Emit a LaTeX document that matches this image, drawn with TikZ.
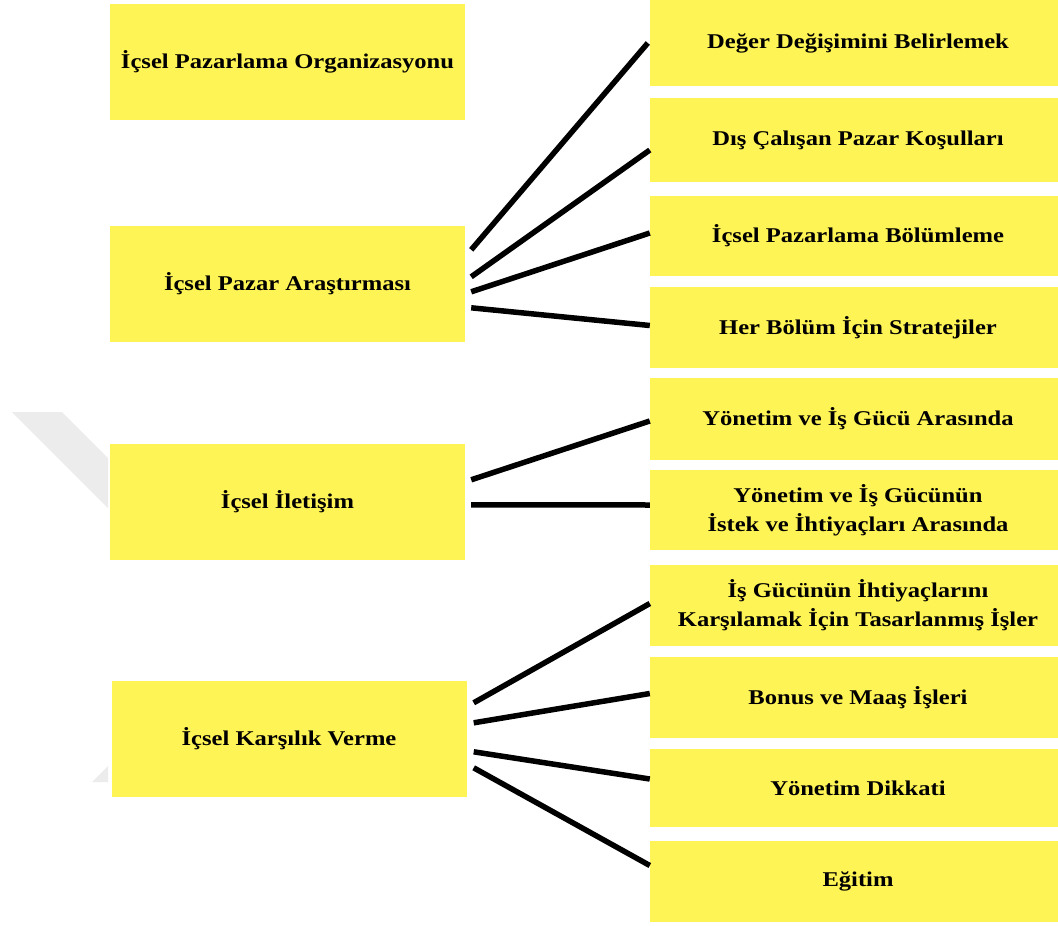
\documentclass[tikz,border=0pt]{standalone}
\usepackage{fontspec}
\setmainfont{Liberation Serif}[FakeStretch=1.17]
\usetikzlibrary{calc}
\definecolor{boxyellow}{RGB}{255,244,85}
\definecolor{markgray}{RGB}{236,236,236}
\tikzset{
  every picture/.style={x=1pt,y=-1pt},
  leftbox/.style={rectangle, fill=boxyellow, inner sep=0pt,
    minimum width=355pt, minimum height=116pt,
    font=\fontsize{21}{29}\selectfont\bfseries, align=center},
  rightbox/.style={rectangle, fill=boxyellow, inner sep=0pt,
    minimum width=416pt, font=\fontsize{21}{29}\selectfont\bfseries, align=center},
  link/.style={line width=5.5pt, black}
}
\begin{document}
\begin{tikzpicture}
  \useasboundingbox (0,0) rectangle (1058,926);
  \fill[white] (0,0) rectangle (1058,926);

  % faint chevron in the left margin
  \begin{scope}
    \clip (0,0) rectangle (108,926);
    \fill[markgray] (12,412) -- (62,412) -- (287,637) -- (142,782) -- (92,782) -- (237,637) -- cycle;
  \end{scope}

  % main topics
  \node[leftbox] (L1) at (287.5,61.5) {İçsel Pazarlama Organizasyonu};
  \node[leftbox] (L2) at (287.5,284)  {İçsel Pazar Araştırması};
  \node[leftbox] (L3) at (287.5,502)  {İçsel İletişim};
  \node[leftbox] (L4) at (289,739)    {İçsel Karşılık Verme};

  % sub-topics
  \node[rightbox, minimum height=86pt] (R1)  at (858,43)    {Değer Değişimini Belirlemek};
  \node[rightbox, minimum height=84pt] (R2)  at (858,140)   {Dış Çalışan Pazar Koşulları};
  \node[rightbox, minimum height=80pt] (R3)  at (858,236)   {İçsel Pazarlama Bölümleme};
  \node[rightbox, minimum height=81pt] (R4)  at (858,327.5) {Her Bölüm İçin Stratejiler};
  \node[rightbox, minimum height=82pt] (R5)  at (858,419)   {Yönetim ve İş Gücü Arasında};
  \node[rightbox, minimum height=80pt] (R6)  at (858,510)   {Yönetim ve İş Gücünün\\İstek ve İhtiyaçları Arasında};
  \node[rightbox, minimum height=81pt] (R7)  at (858,605.5) {İş Gücünün İhtiyaçlarını\\Karşılamak İçin Tasarlanmış İşler};
  \node[rightbox, minimum height=81pt] (R8)  at (858,697.5) {Bonus ve Maaş İşleri};
  \node[rightbox, minimum height=78pt] (R9)  at (858,788)   {Yönetim Dikkati};
  \node[rightbox, minimum height=81pt] (R10) at (858,881.5) {Eğitim};

  % connectors
  \draw[link] ($(L2.north east)+(6,24)$) -- ($(R1.west)+(-2,0)$);
  \draw[link] ($(L2.north east)+(6,51)$) -- ($(R2.west)+(0,10)$);
  \draw[link] ($(L2.north east)+(6,66)$) -- ($(R3.west)+(0,-3)$);
  \draw[link] ($(L2.north east)+(6,82)$) -- ($(R4.west)+(0,-2)$);

  \draw[link] ($(L3.north east)+(6,36)$) -- ($(R5.west)+(0,2)$);
  \draw[link] ($(L3.north east)+(6,61)$) -- ($(R6.west)+(0,-5)$);

  \draw[link] ($(L4.north east)+(7,22)$) -- ($(R7.west)+(0,-2)$);
  \draw[link] ($(L4.north east)+(7,42)$) -- ($(R8.west)+(0,-4)$);
  \draw[link] ($(L4.north east)+(7,71)$) -- ($(R9.west)+(0,-9)$);
  \draw[link] ($(L4.north east)+(7,87)$) -- ($(R10.west)+(0,-16)$);
\end{tikzpicture}
\end{document}
